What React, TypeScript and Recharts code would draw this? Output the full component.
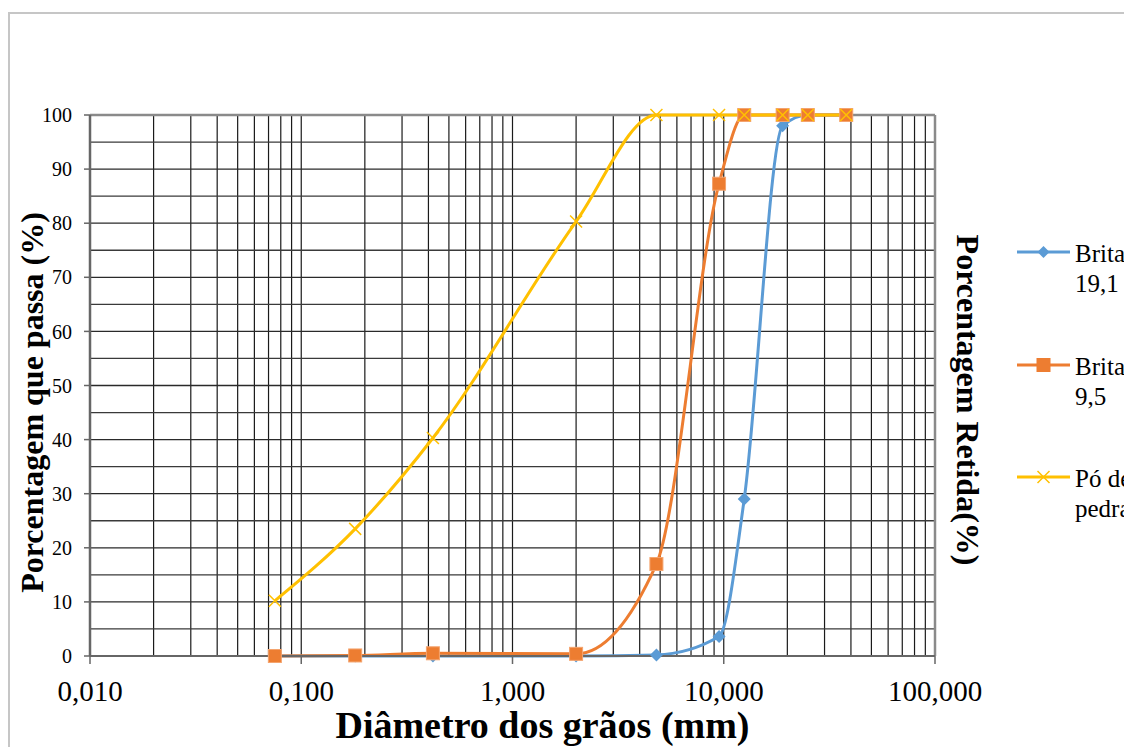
import React from 'react';
import { LineChart, Line, XAxis, YAxis, ReferenceLine, Legend } from 'recharts';

// ---- data ----
const sieveSizes = [0.075, 0.18, 0.42, 2.0, 4.8, 9.5, 12.5, 19, 25, 38];
const brita191 = [0, 0, 0, 0, 0.2, 3.6, 29, 98, 100, 100];
const brita95 = [0, 0.1, 0.5, 0.4, 17, 87.3, 100, 100, 100, 100];
const poDePedra = [10.2, 23.5, 40.3, 80.3, 100, 100, 100, 100, 100, 100];

const seriesNames = ['Brita 19,1', 'Brita 9,5', 'Pó de pedra'];
const seriesColors = ['#5B9BD5', '#ED7D31', '#FFC000'];
const legendLines = [['Brita', '19,1'], ['Brita', '9,5'], ['Pó de', 'pedra']];

const xTicks = [0.01, 0.1, 1, 10, 100];
const xTickLabels = ['0,010', '0,100', '1,000', '10,000', '100,000'];
const yTicks = [0, 10, 20, 30, 40, 50, 60, 70, 80, 90, 100];
const yMinorGrid = [5, 15, 25, 35, 45, 55, 65, 75, 85, 95];
const decades = [0.01, 0.1, 1, 10];
const multipliers = [1, 2, 3, 4, 5, 6, 7, 8, 9];
const xGrid = decades.flatMap((d) => multipliers.map((m) => +(d * m).toPrecision(6)));

const toData = (ys: number[]) => sieveSizes.map((x, i) => ({ x, y: ys[i] }));
const dataB19 = toData(brita191);
const dataB95 = toData(brita95);
const dataPo = toData(poDePedra);

const FONT = "'Liberation Serif', 'Times New Roman', serif";

const DiamondDot = (p: any) => {
  const { cx, cy, index } = p;
  if (cx == null || cy == null) return <g key={`bd${index}`} />;
  const s = 6.5;
  return (
    <path
      key={`bd${index}`}
      d={`M${cx},${cy - s}L${cx + s},${cy}L${cx},${cy + s}L${cx - s},${cy}Z`}
      fill={seriesColors[0]}
    />
  );
};

const SquareDot = (p: any) => {
  const { cx, cy, index } = p;
  if (cx == null || cy == null) return <g key={`sd${index}`} />;
  const s = 6.5;
  return (
    <rect
      key={`sd${index}`}
      x={cx - s}
      y={cy - s}
      width={2 * s}
      height={2 * s}
      fill={seriesColors[1]}
      stroke="#F4A46E"
      strokeWidth={1}
    />
  );
};

const CrossDot = (p: any) => {
  const { cx, cy, index } = p;
  if (cx == null || cy == null) return <g key={`cd${index}`} />;
  const s = 6;
  return (
    <path
      key={`cd${index}`}
      d={`M${cx - s},${cy - s}L${cx + s},${cy + s}M${cx - s},${cy + s}L${cx + s},${cy - s}`}
      stroke={seriesColors[2]}
      strokeWidth={1.5}
      fill="none"
    />
  );
};

const legendMarkers = [
  (x: number, y: number) => (
    <path d={`M${x},${y - 6}L${x + 6},${y}L${x},${y + 6}L${x - 6},${y}Z`} fill={seriesColors[0]} />
  ),
  (x: number, y: number) => <rect x={x - 7} y={y - 7} width={14} height={14} fill={seriesColors[1]} />,
  (x: number, y: number) => (
    <path
      d={`M${x - 6},${y - 6}L${x + 6},${y + 6}M${x - 6},${y + 6}L${x + 6},${y - 6}`}
      stroke={seriesColors[2]}
      strokeWidth={1.5}
    />
  ),
];

const renderLegend = () => {
  const itemY = [14, 127, 239];
  return (
    <svg width={140} height={290} style={{ overflow: 'visible' }}>
      {seriesNames.map((name, i) => (
        <g key={name}>
          <line x1={9} x2={62} y1={itemY[i]} y2={itemY[i]} stroke={seriesColors[i]} strokeWidth={3} />
          {legendMarkers[i](35.5, itemY[i])}
          <text fontFamily={FONT} style={{ fontFamily: FONT }} fontSize={25} fill="#000">
            <tspan x={67} y={itemY[i] + 10}>{legendLines[i][0]}</tspan>
            <tspan x={67} y={itemY[i] + 40}>{legendLines[i][1]}</tspan>
          </text>
        </g>
      ))}
    </svg>
  );
};

export default function App() {
  return (
    <div
      style={{
        position: 'relative',
        width: 1124,
        height: 739,
        overflow: 'hidden',
        background: '#fff',
        fontFamily: FONT,
      }}
    >
      <div
        style={{
          position: 'absolute',
          left: 0,
          top: 4,
          width: 1300,
          height: 900,
          border: '2px solid #c6c6c6',
        }}
      />
      <div style={{ position: 'absolute', left: 0, top: 0 }}>
        <LineChart
          width={1124}
          height={739}
          margin={{ top: 107, right: 197, left: 22, bottom: 41 }}
          style={{ fontFamily: FONT }}
        >
          <XAxis
            dataKey="x"
            type="number"
            scale="log"
            domain={[0.01, 100]}
            allowDataOverflow
            ticks={xTicks}
            tickFormatter={(v: number) => xTickLabels[xTicks.indexOf(v)] ?? ''}
            height={50}
            tickSize={8}
            tickMargin={16}
            tick={{ fontFamily: FONT, fontSize: 29, fill: '#000' }}
            axisLine={{ stroke: '#666', strokeWidth: 2 }}
            tickLine={{ stroke: '#666', strokeWidth: 1.5 }}
          />
          <YAxis
            type="number"
            domain={[0, 100]}
            ticks={yTicks}
            width={60}
            tickSize={6}
            tickMargin={12}
            tick={{ fontFamily: FONT, fontSize: 20, fill: '#000' }}
            axisLine={{ stroke: '#666', strokeWidth: 2.5 }}
            tickLine={{ stroke: '#666', strokeWidth: 1.5 }}
          />
          {xGrid.slice(1).map((v) => (
            <ReferenceLine key={`vx${v}`} x={v} stroke="#1a1a1a" strokeWidth={1.2} />
          ))}
          {yMinorGrid.map((v) => (
            <ReferenceLine key={`hm${v}`} y={v} stroke="#3a3a3a" strokeWidth={1.3} />
          ))}
          {yTicks.slice(1, -1).map((v) => (
            <ReferenceLine key={`hM${v}`} y={v} stroke="#2a2a2a" strokeWidth={1.3} />
          ))}
          <ReferenceLine y={100} stroke="#8a8a8a" strokeWidth={2.5} />
          <ReferenceLine x={100} stroke="#8a8a8a" strokeWidth={2.5} />
          <Legend
            layout="vertical"
            align="center"
            verticalAlign="middle"
            wrapperStyle={{ position: 'absolute', left: 1000, top: 230, width: 140, height: 290 }}
            content={renderLegend}
          />
          <Line
            data={dataB19}
            dataKey="y"
            name={seriesNames[0]}
            type="monotone"
            stroke={seriesColors[0]}
            strokeWidth={3}
            dot={DiamondDot}
            activeDot={false}
            isAnimationActive={false}
          />
          <Line
            data={dataB95}
            dataKey="y"
            name={seriesNames[1]}
            type="monotone"
            stroke={seriesColors[1]}
            strokeWidth={3}
            dot={SquareDot}
            activeDot={false}
            isAnimationActive={false}
          />
          <Line
            data={dataPo}
            dataKey="y"
            name={seriesNames[2]}
            type="monotone"
            stroke={seriesColors[2]}
            strokeWidth={3}
            dot={CrossDot}
            activeDot={false}
            isAnimationActive={false}
          />
        </LineChart>
      </div>
      <svg
        width={1124}
        height={739}
        style={{ position: 'absolute', left: 0, top: 0, pointerEvents: 'none' }}
      >
        <text
          x={534.5}
          y={730}
          textAnchor="middle"
          fontFamily={FONT}
          fontWeight="bold"
          fontSize={38}
          fill="#000"
        >
          Diâmetro dos grãos (mm)
        </text>
        <text
          transform="translate(35,394.5) rotate(-90)"
          textAnchor="middle"
          fontFamily={FONT}
          fontWeight="bold"
          fontSize={32}
          fill="#000"
        >
          Porcentagem que passa (%)
        </text>
        <text
          transform="translate(949,392) rotate(90)"
          textAnchor="middle"
          fontFamily={FONT}
          fontWeight="bold"
          fontSize={32}
          fill="#000"
        >
          Porcentagem Retida(%)
        </text>
      </svg>
    </div>
  );
}
